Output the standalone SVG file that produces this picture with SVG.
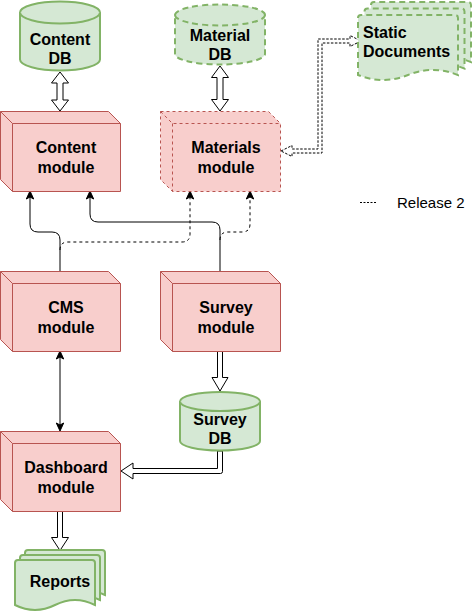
<svg xmlns="http://www.w3.org/2000/svg" width="472" height="612" viewBox="0 0 472 612">
<style>
.cube{fill:#f8cecc;stroke:#b85450;stroke-width:1;stroke-linejoin:miter}
.edge{fill:none;stroke:#b85450;stroke-width:1}
.dash1{stroke-dasharray:3 3}
.green{fill:#d5e8d4;stroke:#82b366;stroke-width:2}
.dash2{stroke-dasharray:6 4}
.lbl{font-family:"Liberation Sans",Arial,Helvetica,sans-serif;font-weight:bold;font-size:16px;fill:#000;text-anchor:middle}
.conn{fill:none;stroke:#000;stroke-width:1}
.hollow{fill:#fff;stroke:#000;stroke-width:1;stroke-linejoin:round}
.legend{font-family:"Liberation Sans",Arial,Helvetica,sans-serif;font-size:15px;fill:#000}
</style>
<defs>
<marker id="arr" viewBox="-7 -5 10 10" refX="0" refY="0" markerWidth="10" markerHeight="10" markerUnits="userSpaceOnUse" orient="auto-start-reverse">
<path d="M2,0 L-6,-3.7 L-4,0 L-6,3.7 Z" fill="#000" stroke="#000" stroke-width="1"/>
</marker>
</defs>

<g id="connectors">
<path class="hollow" d="M60,72 L68.5,83 L63,83 L63,100 L68.5,100 L60,111 L51.5,100 L57,100 L57,83 L51.5,83 Z"/>
<path class="hollow" d="M220,66 L228.5,77.5 L223,77.5 L223,99.5 L228.5,99.5 L220,111 L211.5,99.5 L217,99.5 L217,77.5 L211.5,77.5 Z"/>
<path class="hollow" style="stroke-dasharray:2.5 1.5" d="M281,151 L292,145.5 L292,149 L318,149 L318,39 L350,39 L350,35.5 L361,41 L350,46.5 L350,43 L322,43 L322,153 L292,153 L292,156.5 Z"/>
<path class="conn" marker-end="url(#arr)" d="M60,271 L60,240 Q60,232 52,232 L38,232 Q30,232 30,224 L30,193"/>
<path class="conn" marker-end="url(#arr)" d="M220,271 L220,230 Q220,222 212,222 L98,222 Q90,222 90,214 L90,193"/>
<path class="conn dash1" marker-end="url(#arr)" d="M60,250 Q60,242 68,242 L182,242 Q190,242 190,234 L190,193"/>
<path class="conn dash1" marker-end="url(#arr)" d="M220,240 Q220,232 228,232 L242,232 Q250,232 250,224 L250,193"/>
<path class="conn" marker-start="url(#arr)" marker-end="url(#arr)" d="M60,353 L60,429"/>
<path class="hollow" d="M217.5,351 L217.5,377.5 L212,377.5 L220,391 L228,377.5 L222.5,377.5 L222.5,351 Z"/>
<path class="hollow" d="M217.5,451 L217.5,468.5 L133,468.5 L133,463 L121,471 L133,479 L133,473.5 L220.5,473.5 Q222.5,473.5 222.5,471.5 L222.5,451 Z"/>
<path class="hollow" d="M57.5,511 L57.5,537.5 L51.5,537.5 L60,550.5 L68.5,537.5 L62.5,537.5 L62.5,511 Z"/>
</g>

<g id="content-db">
<path class="green" d="M20,12.5 A40,11 0 0 1 100,12.5 L100,59.5 A40,11 0 0 1 20,59.5 Z"/>
<path class="green" fill="none" d="M20,12.5 A40,11 0 0 0 100,12.5"/>
<text class="lbl" x="60" y="45">Content</text>
<text class="lbl" x="60" y="64">DB</text>
</g>

<g id="material-db">
<path class="green dash2" d="M175,15 A45,10.5 0 0 1 265,15 L265,54 A45,10.5 0 0 1 175,54 Z"/>
<path class="green dash2" fill="none" d="M175,15 A45,10.5 0 0 0 265,15"/>
<text class="lbl" x="220" y="40.5">Material</text>
<text class="lbl" x="220" y="59.5">DB</text>
</g>

<g id="static-documents">
<path class="green dash2" d="M371,5 Q371,2 374,2 L468,2 Q471,2 471,5 L471,62 Q446,52 421,62 Q396,72 371,62 Z"/>
<path class="green dash2" d="M364.5,11.5 Q364.5,8.5 367.5,8.5 L461.5,8.5 Q464.5,8.5 464.5,11.5 L464.5,68.5 Q439.5,58.5 414.5,68.5 Q389.5,78.5 364.5,68.5 Z"/>
<path class="green dash2" d="M358,18 Q358,15 361,15 L455,15 Q458,15 458,18 L458,75 Q433,65 408,75 Q383,85 358,75 Z"/>
<text class="lbl" style="text-anchor:start" x="363" y="38">Static</text>
<text class="lbl" style="text-anchor:start" x="363" y="57">Documents</text>
</g>

<g id="content-module">
<path class="cube" d="M0.5,111.5 L108.5,111.5 L120.5,123.5 L120.5,191.5 L12.5,191.5 L0.5,179.5 Z"/>
<path class="edge" d="M0.5,111.5 L12.5,123.5 L120.5,123.5 M12.5,123.5 L12.5,191.5"/>
<text class="lbl" x="66" y="153">Content</text>
<text class="lbl" x="66" y="173">module</text>
</g>

<g id="materials-module">
<path class="cube dash1" d="M160.5,111.5 L268.5,111.5 L280.5,123.5 L280.5,191.5 L172.5,191.5 L160.5,179.5 Z"/>
<path class="edge dash1" d="M160.5,111.5 L172.5,123.5 L280.5,123.5 M172.5,123.5 L172.5,191.5"/>
<text class="lbl" x="226" y="153">Materials</text>
<text class="lbl" x="226" y="173">module</text>
</g>

<g id="cms-module">
<path class="cube" d="M0.5,271.5 L108.5,271.5 L120.5,283.5 L120.5,351.5 L12.5,351.5 L0.5,339.5 Z"/>
<path class="edge" d="M0.5,271.5 L12.5,283.5 L120.5,283.5 M12.5,283.5 L12.5,351.5"/>
<text class="lbl" x="66" y="313">CMS</text>
<text class="lbl" x="66" y="333">module</text>
</g>

<g id="survey-module">
<path class="cube" d="M160.5,271.5 L268.5,271.5 L280.5,283.5 L280.5,351.5 L172.5,351.5 L160.5,339.5 Z"/>
<path class="edge" d="M160.5,271.5 L172.5,283.5 L280.5,283.5 M172.5,283.5 L172.5,351.5"/>
<text class="lbl" x="226" y="313">Survey</text>
<text class="lbl" x="226" y="333">module</text>
</g>

<g id="survey-db">
<path class="green" d="M180,401.5 A40,9.5 0 0 1 260,401.5 L260,441 A40,9.5 0 0 1 180,441 Z"/>
<path class="green" fill="none" d="M180,401.5 A40,9.5 0 0 0 260,401.5"/>
<text class="lbl" x="220" y="425">Survey</text>
<text class="lbl" x="220" y="443.5">DB</text>
</g>

<g id="dashboard-module">
<path class="cube" d="M0.5,431.5 L108.5,431.5 L120.5,443.5 L120.5,511.5 L12.5,511.5 L0.5,499.5 Z"/>
<path class="edge" d="M0.5,431.5 L12.5,443.5 L120.5,443.5 M12.5,443.5 L12.5,511.5"/>
<text class="lbl" x="66" y="473">Dashboard</text>
<text class="lbl" x="66" y="493">module</text>
</g>

<g id="reports">
<path class="green" d="M25,553 Q25,550 28,550 L102,550 Q105,550 105,553 L105,595 Q85,585 65,595 Q45,605 25,595 Z"/>
<path class="green" d="M20,558 Q20,555 23,555 L97,555 Q100,555 100,558 L100,600 Q80,590 60,600 Q40,610 20,600 Z"/>
<path class="green" d="M15,563 Q15,560 18,560 L92,560 Q95,560 95,563 L95,605 Q75,595 55,605 Q35,615 15,605 Z"/>
<text class="lbl" x="60" y="587">Reports</text>
</g>

<g id="legend">
<path d="M360,202.5 L377,202.5" fill="none" stroke="#000" stroke-width="1" stroke-dasharray="2 1.5"/>
<text class="legend" x="397" y="208">Release 2</text>
</g>
</svg>
